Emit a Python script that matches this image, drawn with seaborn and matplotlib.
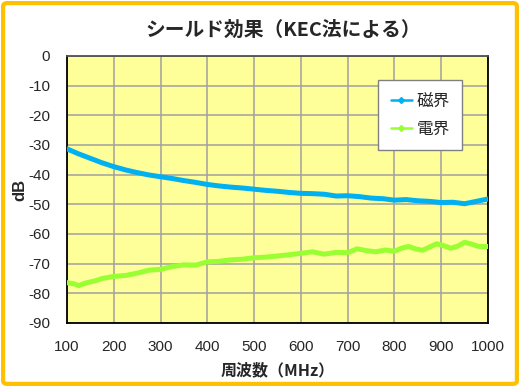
import pandas as pd
import numpy as np
import matplotlib
import matplotlib.pyplot as plt
import seaborn as sns
from matplotlib.lines import Line2D
from matplotlib.patches import FancyBboxPatch

# Data
mag_freq = [100, 125, 150, 175, 200, 225, 250, 275, 300, 325, 350, 375, 400, 425, 450, 475, 500,
            525, 550, 575, 600, 625, 650, 675, 700, 725, 750, 775, 800, 825, 850, 875, 900, 925,
            950, 975, 1000]
mag_db = [-31.3, -33.0, -34.5, -36.0, -37.3, -38.4, -39.3, -40.1, -40.7, -41.3, -42.0, -42.6, -43.3,
          -43.8, -44.2, -44.5, -44.9, -45.3, -45.6, -46.0, -46.3, -46.4, -46.6, -47.2, -47.1, -47.4,
          -47.9, -48.1, -48.6, -48.4, -48.8, -49.0, -49.4, -49.3, -49.8, -49.0, -48.2]

ele_freq = [100, 115, 125, 140, 160, 175, 200, 225, 250, 275, 300, 325, 350, 375, 400, 425, 450,
            475, 500, 525, 550, 575, 600, 625, 650, 675, 700, 720, 740, 760, 780, 800, 815, 830,
            845, 860, 875, 890, 905, 920, 935, 950, 965, 980, 1000]
ele_db = [-76.4, -76.8, -77.4, -76.5, -75.8, -75.0, -74.3, -74.0, -73.2, -72.2, -71.9, -71.0, -70.4,
          -70.5, -69.4, -69.2, -68.7, -68.5, -68.0, -67.8, -67.4, -67.0, -66.5, -66.0, -66.8, -66.2,
          -66.3, -65.0, -65.6, -66.0, -65.4, -65.8, -64.8, -64.2, -65.0, -65.5, -64.4, -63.3, -63.9,
          -64.8, -64.1, -62.8, -63.4, -64.2, -64.2]

labels = ["磁界", "電界"]
colors = ["#00B0F0", "#99FF33"]
x_ticks = list(range(100, 1001, 100))
y_ticks = list(range(-90, 1, 10))

sns.set_style("white")
plt.rcParams['font.family'] = ['Liberation Sans', 'Noto Sans CJK JP', 'DejaVu Sans']
plt.rcParams['axes.unicode_minus'] = False

fig = plt.figure(figsize=(5.2, 3.87), dpi=100)
fig.patches.append(FancyBboxPatch((0.006, 0.008), 0.988, 0.984, boxstyle="round,pad=0,rounding_size=0.008",
                                  transform=fig.transFigure, facecolor="none",
                                  edgecolor="#FFC000", linewidth=3, zorder=0))
ax = fig.add_axes([0.1288, 0.1654, 0.8097, 0.6899])
ax.set_facecolor("#FFFF99")

df_mag = pd.DataFrame({"freq": mag_freq, "db": mag_db})
df_ele = pd.DataFrame({"freq": ele_freq, "db": ele_db})
sns.lineplot(data=df_mag, x="freq", y="db", color=colors[0], linewidth=3.6, ax=ax, zorder=3)
sns.lineplot(data=df_ele, x="freq", y="db", color=colors[1], linewidth=3.6, ax=ax, zorder=3)

ax.set_xlim(100, 1000)
ax.set_ylim(-90, 0)
ax.set_xticks(x_ticks)
ax.set_yticks(y_ticks)
ax.tick_params(axis='both', labelsize=11, length=0)
ax.tick_params(axis='x', pad=12)
ax.tick_params(axis='y', pad=12)
ax.grid(True, color="#A0A0A0", linewidth=1.1)
ax.set_axisbelow(True)
for side in ['top', 'right', 'bottom', 'left']:
    ax.spines[side].set_visible(True)
    ax.spines[side].set_color("black")
    ax.spines[side].set_linewidth(1.3)
ax.spines['top'].set_color("#505050")

ax.set_xlabel("周波数（MHz）", fontsize=11.5, fontweight='bold',
              family=['Noto Sans CJK JP', 'DejaVu Sans'], labelpad=6)
ax.set_ylabel("dB", fontsize=12, fontweight='bold')
ax.yaxis.set_label_coords(-0.093, 0.5)
fig.text(0.545, 0.922, "シールド効果（KEC法による）", ha='center', va='center', fontsize=14.2,
         fontweight='bold', family=['Noto Sans CJK JP', 'DejaVu Sans'])

handles = [Line2D([0], [0], color=c, linewidth=1.8, marker='D', markersize=3) for c in colors]
leg = ax.legend(handles, labels, loc='upper left', bbox_to_anchor=(0.739, 0.910),
                frameon=True, fancybox=False, handlelength=1.3, borderaxespad=0,
                labelspacing=0.65, borderpad=0.75, handletextpad=0.25,
                prop={'family': ['Noto Sans CJK JP', 'DejaVu Sans'], 'size': 12})
leg.get_frame().set_edgecolor("#808080")
leg.get_frame().set_linewidth(1.0)
leg.get_frame().set_facecolor("white")
leg.get_frame().set_alpha(1)

fig.savefig("out.png", dpi=100)
